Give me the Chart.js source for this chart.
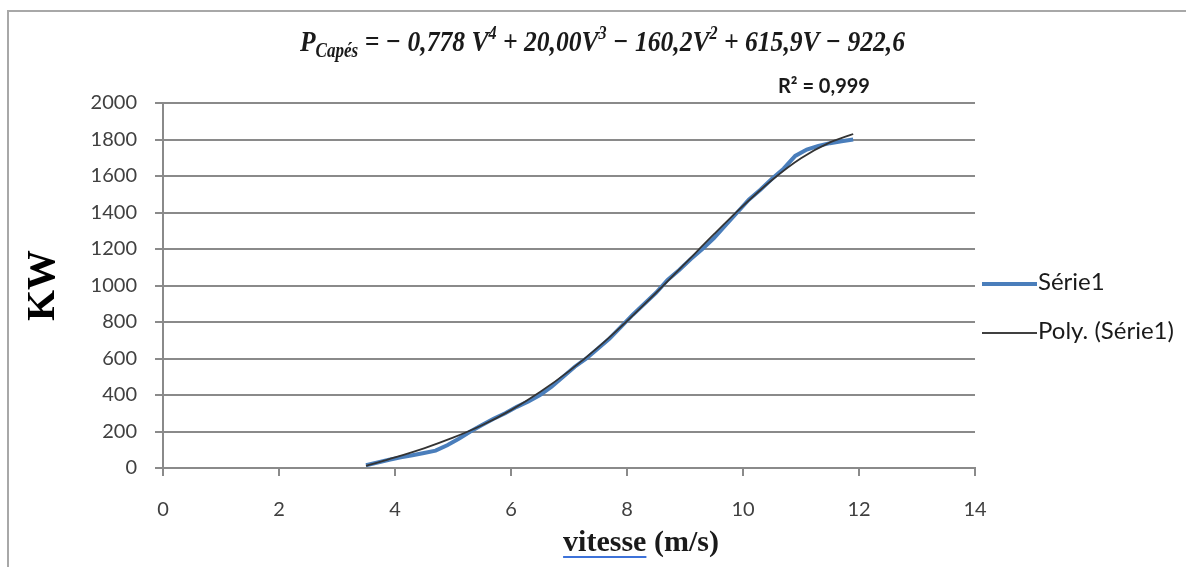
<!DOCTYPE html>
<html>
<head>
<meta charset="utf-8">
<script src="https://cdn.jsdelivr.net/npm/chart.js@4"></script>
<style>
  html, body { margin: 0; padding: 0; background: #fff; }
  #wrap { position: relative; width: 1186px; height: 567px; overflow: hidden; }
  #frame { position: absolute; left: 7px; top: 10px; width: 1300px; height: 700px;
           border: 2px solid #a8a8a8; box-sizing: border-box; }
  #chart { position: absolute; left: 0; top: 0; }
  #eq { position: absolute; left: 300px; top: 24px; white-space: nowrap; transform-origin: 0 0;
        font-family: "Liberation Serif", serif; font-weight: bold; font-style: italic;
        font-size: 30px; color: #1a1a1a; }
  #eq sub { font-size: 20px; vertical-align: -6px; line-height: 0; }
  #eq sup { font-size: 19px; vertical-align: 12px; line-height: 0; }
  #r2 { position: absolute; left: 778px; top: 73px; font-family: Lato, sans-serif;
        font-weight: bold; font-size: 20px; color: #1a1a1a; white-space: nowrap; }
  #xtitle { position: absolute; left: 0; width: 1282px; top: 524px; text-align: center;
            font-family: "Liberation Serif", serif; font-weight: bold; font-size: 30px; color: #1a1a1a; }
  #xtitle span { text-decoration: underline; text-decoration-color: #3d72d9;
                 text-decoration-thickness: 2px; text-underline-offset: 5px; }
  .leg { position: absolute; left: 982px; font-family: Lato, sans-serif; font-size: 24px;
         line-height: 30px; color: #1a1a1a; white-space: nowrap; }
  .leg i { display: inline-block; width: 55px; vertical-align: middle; margin-right: 1px; }
</style>
</head>
<body>
<div id="wrap">
  <div id="frame"></div>
  <canvas id="chart" width="1186" height="567"></canvas>
  <div id="eq">P<sub>Capés</sub> = − 0,778 V<sup>4</sup> + 20,00V<sup>3</sup> − 160,2V<sup>2</sup> + 615,9V − 922,6</div>
  <div id="r2">R² = 0,999</div>
  <div id="xtitle"><span>vitesse</span> (m/s)</div>
  <div class="leg" style="top:266px"><i style="height:4px;background:#4a7ebb"></i>Série1</div>
  <div class="leg" style="top:315px"><i style="height:2px;background:#404040"></i>Poly. (Série1)</div>
</div>
<script>
// ==== données ====
const vitesse = [3.5, 3.7, 3.9, 4.1, 4.3, 4.5, 4.7, 4.9, 5.1, 5.3, 5.5, 5.7, 5.9, 6.1, 6.3, 6.5, 6.7, 6.9,
  7.1, 7.3, 7.5, 7.7, 7.9, 8.1, 8.3, 8.5, 8.7, 8.9, 9.1, 9.3, 9.5, 9.7, 9.9, 10.1, 10.3, 10.5,
  10.7, 10.9, 11.1, 11.3, 11.5, 11.7, 11.9];
const puissance = [15, 30, 45, 58, 70, 82, 95, 125, 160, 200, 235, 270, 300, 335, 365, 400, 445, 500,
  555, 600, 655, 710, 775, 840, 900, 960, 1030, 1085, 1145, 1200, 1260, 1330, 1400, 1470, 1525, 1585,
  1640, 1710, 1745, 1765, 1780, 1790, 1800];

// courbe de tendance (polynomiale, ordre 4)
const vitessePoly = [3.5, 4, 4.5, 5, 5.5, 6, 6.5, 7, 7.5, 8, 8.5, 9, 9.5, 10, 10.5, 11, 11.5, 11.9];
const puissancePoly = [12, 58, 108, 166, 234, 317, 416, 531, 661, 805, 959, 1120, 1281, 1436, 1578, 1697, 1784, 1830];

const xTicks = [0, 2, 4, 6, 8, 10, 12, 14];
const yTicks = [0, 200, 400, 600, 800, 1000, 1200, 1400, 1600, 1800, 2000];

const toPoints = (xs, ys) => xs.map((x, i) => ({ x: x, y: ys[i] }));

const gris = '#8a8a8a';

new Chart(document.getElementById('chart'), {
  type: 'scatter',
  data: {
    datasets: [
      {
        label: 'Série1',
        data: toPoints(vitesse, puissance),
        showLine: true,
        borderColor: '#4a7ebb',
        borderWidth: 4,
        pointRadius: 0,
        order: 2
      },
      {
        label: 'Poly. (Série1)',
        data: toPoints(vitessePoly, puissancePoly),
        showLine: true,
        borderColor: '#333333',
        borderWidth: 1.8,
        pointRadius: 0,
        cubicInterpolationMode: 'monotone',
        order: 1
      }
    ]
  },
  options: {
    responsive: false,
    animation: false,
    layout: { padding: { left: 8, right: 211, top: 103, bottom: 0 } },
    plugins: { legend: { display: false }, tooltip: { enabled: false } },
    scales: {
      x: {
        type: 'linear',
        min: xTicks[0],
        max: xTicks[xTicks.length - 1],
        afterBuildTicks: s => { s.ticks = xTicks.map(v => ({ value: v })); },
        afterFit: s => { s.height = 99; },
        ticks: { font: { family: 'Lato', size: 20 }, color: '#404040', padding: 22, maxRotation: 0,
                 callback: v => String(v) },
        grid: { drawOnChartArea: false, tickLength: 8, color: gris, lineWidth: 2 },
        border: { color: gris, width: 2 }
      },
      y: {
        min: yTicks[0],
        max: yTicks[yTicks.length - 1],
        afterBuildTicks: s => { s.ticks = yTicks.map(v => ({ value: v })); },
        afterFit: s => { s.width = 155; },
        ticks: { font: { family: 'Lato', size: 20 }, color: '#404040', padding: 18,
                 callback: v => String(v) },
        grid: { tickLength: 8, color: gris, lineWidth: 2 },
        border: { color: gris, width: 2 },
        title: {
          display: true, text: 'KW', color: '#000',
          font: { family: 'Liberation Serif', size: 40, weight: 'bold' },
          padding: { top: 12, bottom: 0 }
        }
      }
    }
  }
});

// ajuster l'équation à la largeur de l'original
const eq = document.getElementById('eq');
eq.style.transform = 'scaleX(' + (605 / eq.getBoundingClientRect().width) + ')';
</script>
</body>
</html>
